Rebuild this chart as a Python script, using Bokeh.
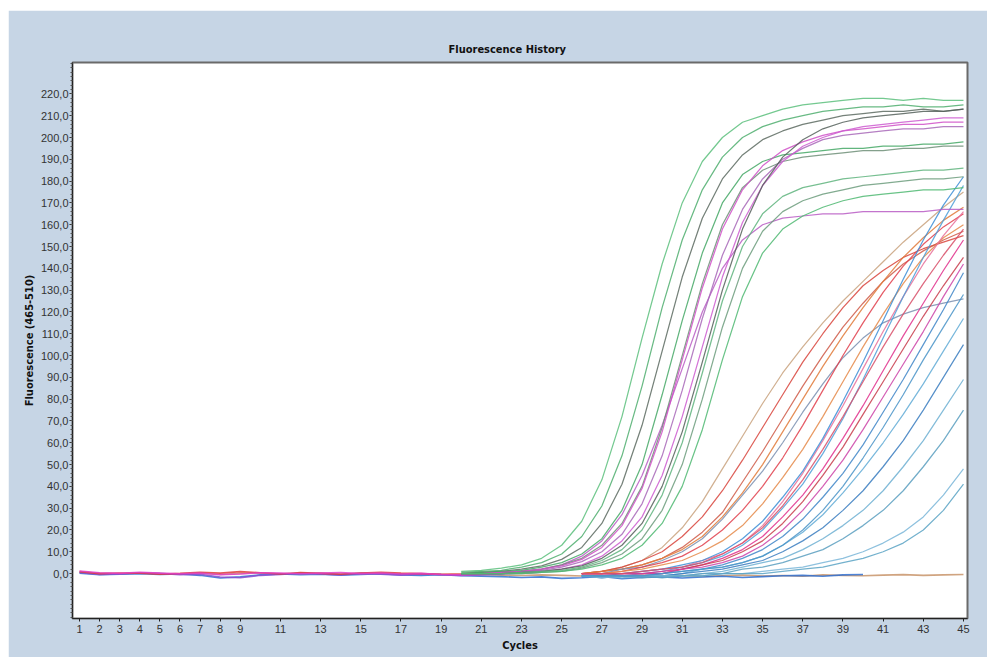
from bokeh.plotting import figure
from bokeh.models import Range1d, FixedTicker
from bokeh.embed import file_html
from bokeh.resources import INLINE

# ---------------- texts / ticks ----------------
TITLE = "Fluorescence History"
X_LABEL = "Cycles"
Y_LABEL = "Fluorescence (465-510)"
X_TICKS = [1, 2, 3, 4, 5, 6, 7, 8, 9, 11, 13, 15, 17, 19, 21, 23, 25, 27, 29, 31, 33, 35, 37, 39, 41, 43, 45]
Y_TICKS = [0, 10, 20, 30, 40, 50, 60, 70, 80, 90, 100, 110, 120, 130, 140, 150, 160, 170, 180, 190, 200, 210, 220]
Y_TICK_LABELS = ["0,0", "10,0", "20,0", "30,0", "40,0", "50,0", "60,0", "70,0", "80,0", "90,0", "100,0",
                 "110,0", "120,0", "130,0", "140,0", "150,0", "160,0", "170,0", "180,0", "190,0", "200,0",
                 "210,0", "220,0"]

# ---------------- cycles ----------------
CYCLES_BASE = list(range(1, 46))      # baseline traces
CYCLES_EARLY = list(range(20, 46))    # early amplification curves
CYCLES_LATE = list(range(26, 46))     # late amplification curves

# ---------------- baseline traces (cycles 1..n) ----------------
BL_MAGENTA = [1.2, 0.4, 0.1, 0.6, 0.2, -0.1, 0.3, -0.5, -0.2, 0.4, 0.3, -0.1, 0.2, 0.5, 0.0, 0.3, -0.2, 0.1, -0.4, -0.6, -0.3, 0.4, 0.8, 1.4]
BL_RED = [0.9, 0.0, 0.3, 0.2, -0.3, 0.1, 0.6, 0.2, 0.9, 0.4, -0.2, 0.5, 0.1, -0.3, 0.3, 0.6, 0.2, 0.0, -0.3, -0.1, 0.2, 0.6, 0.9, 1.6]
BL_PURPLE = [0.5, -0.4, -0.2, 0.3, 0.1, -0.5, -0.3, -1.6, -1.9, -0.8, -0.4, 0.2, -0.2, -0.6, 0.1, -0.3, -0.7, -0.2, -0.5, -0.8, -0.6, -0.2, 0.3, 0.6]
BL_BLUE = [0.2, -0.5, -0.3, 0.0, -0.4, -0.2, -0.8, -2.0, -1.5, -0.6, -0.2, -0.5, -0.3, -0.7, -0.4, -0.1, -0.6, -0.9, -0.5, -1.0,
           -1.2, -1.4, -1.8, -1.5, -2.2, -1.9, -1.3, -2.4, -1.8, -1.5, -2.0, -1.6, -1.2, -1.8, -1.4, -1.0, -0.8, -1.2, -0.6, -0.4]
BL_NEG = [0.6, 0.1, -0.2, 0.3, 0.0, -0.3, 0.2, -0.4, 0.1, 0.3, -0.1, 0.0, 0.2, -0.2, 0.1, 0.0, -0.3, -0.1, -0.5, -0.6,
          -0.4, -0.7, -0.9, -0.6, -0.8, -1.1, -0.9, -1.2, -0.8, -1.0, -0.9, -1.3, -1.0, -0.7, -1.1, -0.9, -1.2, -0.6, -0.9, -1.0,
          -0.7, -0.5, -0.8, -0.6, -0.4]

# ---------------- early curves (cycles 20..45) ----------------
A1 = [1, 1.5, 2.5, 4, 7, 13, 24, 43, 72, 108, 142, 170, 189, 200, 207, 210, 213, 215, 216, 217, 218, 218, 217, 218, 217, 217]
A2 = [0.5, 1, 1.5, 3, 5, 9, 17, 31, 54, 86, 122, 153, 176, 191, 200, 205, 208, 210, 212, 213, 214, 214, 215, 214, 214, 215]
A3 = [0, 0.5, 1, 2, 3.5, 6.5, 12, 23, 41, 68, 102, 136, 163, 181, 192, 199, 203, 206, 208, 210, 211, 212, 212, 213, 212, 213]
A4 = [0, 0, 0.5, 1, 2, 4, 8, 15, 27, 45, 68, 94, 120, 140, 153, 160, 163, 164, 165, 165, 166, 166, 166, 166, 167, 167]
A5 = [0, 0.5, 1, 1.5, 3, 5, 9, 16, 29, 50, 82, 116, 147, 170, 183, 189, 192, 193, 194, 195, 195, 196, 196, 197, 197, 198]
A6 = [0, 0, 0.5, 1, 2, 4, 7, 13, 23, 40, 67, 100, 133, 160, 177, 185, 189, 191, 192, 193, 194, 194, 195, 195, 196, 196]
A7 = [0, 0, 0.5, 1, 2, 3.5, 6.5, 12, 22, 39, 65, 98, 131, 158, 176, 187, 194, 198, 201, 203, 204, 205, 206, 206, 207, 207]
A8 = [0, 0, 0, 0.5, 1.5, 3, 5.5, 10, 18, 32, 54, 84, 117, 146, 167, 181, 190, 195, 199, 201, 202, 203, 204, 204, 205, 205]
A9 = [0, 0, 0, 0.5, 1, 2, 4, 8, 15, 26, 45, 72, 104, 136, 161, 178, 189, 196, 200, 203, 205, 206, 207, 208, 209, 209]
A10 = [0, 0, 0, 0.5, 1, 2, 3.5, 7, 13, 23, 40, 65, 97, 130, 158, 178, 191, 199, 204, 207, 209, 210, 211, 212, 212, 213]
A11 = [0, 0, 0, 0.5, 1, 1.5, 3, 6, 11, 20, 36, 60, 92, 125, 150, 165, 173, 177, 179, 181, 182, 183, 184, 185, 185, 186]
A12 = [0, 0, 0, 0, 0.5, 1, 2.5, 5, 9, 16, 29, 50, 80, 113, 140, 157, 166, 171, 174, 176, 178, 179, 180, 181, 181, 182]
A13 = [0, 0, 0, 0, 0.5, 1, 2, 4, 7, 13, 23, 40, 66, 98, 127, 147, 158, 164, 168, 171, 173, 174, 175, 176, 176, 177]

# ---------------- late curves (cycles 26..45) ----------------
B1 = [0, 1, 3, 6, 12, 21, 33, 48, 63, 78, 92, 104, 115, 125, 134, 143, 152, 160, 168, 175]
B2 = [0, 1, 3, 6, 10, 17, 26, 38, 52, 67, 82, 97, 110, 122, 132, 139, 145, 149, 152, 155]
B3 = [0, 1, 2, 4, 7, 12, 19, 28, 42, 56, 71, 86, 100, 113, 124, 134, 142, 148, 153, 157]
B4 = [0, 1, 2, 4, 7, 11, 17, 26, 37, 50, 65, 80, 95, 109, 122, 134, 145, 154, 162, 168]
B5 = [0, 0, 2, 3, 6, 10, 16, 25, 36, 47, 60, 74, 87, 99, 108, 115, 119, 122, 124, 126]
B6 = [0, 0, 1, 3, 5, 8, 13, 20, 29, 40, 53, 68, 84, 100, 115, 129, 141, 151, 159, 165]
B7 = [0, 0, 1, 2, 4, 6, 10, 15, 22, 32, 44, 57, 72, 88, 104, 119, 133, 145, 154, 160]
B8 = [0, 0, 0, 1, 2, 3, 6, 9, 14, 22, 33, 46, 61, 77, 94, 111, 127, 142, 155, 166]
B9 = [-1, -1, 0, 1, 2, 4, 6, 10, 16, 24, 35, 47, 62, 79, 97, 116, 135, 153, 169, 182]
B10 = [-1, -1, -1, 0, 1, 3, 5, 8, 13, 20, 30, 41, 55, 71, 89, 108, 127, 145, 162, 178]
B11 = [0, 0, 0, 0, 1, 2, 4, 7, 11, 17, 26, 36, 48, 62, 77, 93, 109, 124, 139, 153]
B12 = [0, 0, 0, 0, 0, 2, 4, 6, 10, 15, 23, 33, 45, 58, 73, 88, 103, 118, 132, 145]
B13 = [0, 0, 0, 0, 0, 2, 3, 5, 8, 13, 20, 29, 40, 52, 66, 81, 96, 111, 127, 142]
B14 = [-1, -1, -1, -1, 0, 1, 2, 4, 7, 11, 17, 25, 35, 46, 59, 74, 89, 105, 121, 138]
B15 = [-1, -1, -1, -1, -1, 0, 2, 3, 5, 8, 13, 19, 27, 37, 48, 60, 73, 87, 102, 117]
B16 = [-1, -2, -1, -1, -1, 0, 1, 2, 4, 6, 10, 15, 21, 29, 38, 49, 61, 75, 90, 105]
B17 = [-1, -1, -2, -1, -1, -1, 0, 1, 3, 5, 7, 11, 16, 22, 29, 38, 49, 61, 75, 89]
B18 = [-1, -1, -1, -2, -1, -1, 0, 0, 2, 3, 5, 8, 11, 16, 22, 29, 38, 49, 61, 75]
B19 = [-1, -2, -1, -1, -1, -1, -1, 0, 0, 1, 2, 3, 5, 7, 10, 14, 19, 26, 36, 48]
B20 = [-1, -1, -1, -1, -2, -1, -1, 0, 0, 0, 1, 2, 3, 5, 7, 10, 14, 20, 29, 41]
B21 = [-1, -1, -1, -1, 0, 1, 2, 3, 5, 8, 13, 20, 29, 40, 53, 67, 82, 98, 113, 128]
B22 = [0, 0, 0, 1, 2, 3, 5, 9, 14, 21, 31, 43, 57, 72, 88, 104, 119, 133, 146, 158]

# ---------------- styling ----------------
BG_PANEL = "#c6d5e5"
FONT = "Liberation Sans"
BOLD_FONT = "Liberation Sans Narrow, DejaVu Sans Condensed, Liberation Sans"

base_series = [
    (BL_NEG, "#c8946a"), (BL_BLUE, "#2f6fd0"), (BL_PURPLE, "#8a4fd0"),
    (BL_RED, "#e03a3a"), (BL_MAGENTA, "#e040c8"),
]
late_series = [
    (B1, "#c9a27e"), (B2, "#d8443c"), (B3, "#cf5a48"), (B4, "#e07a3a"), (B5, "#7a8fb0"),
    (B6, "#e0404c"), (B7, "#e58a4a"), (B8, "#e8709a"), (B9, "#3d8ed6"), (B10, "#4f9fd8"),
    (B11, "#e0308c"), (B12, "#c83c4c"), (B13, "#cc44a8"), (B14, "#3f86c8"), (B15, "#62acd6"),
    (B16, "#3a7cc0"), (B17, "#6fb0d2"), (B18, "#5a9fbf"), (B19, "#7ab6d8"), (B20, "#5aa3c4"),
    (B21, "#4a94c8"), (B22, "#d8506a"),
]
early_series = [
    (A1, "#5cbf7c"), (A2, "#4fae6e"), (A3, "#5d6b62"), (A4, "#b85cc4"), (A5, "#45a866"),
    (A6, "#6f8f78"), (A7, "#d050c8"), (A8, "#a868b8"), (A9, "#cc5cd0"), (A10, "#55605a"),
    (A11, "#5fb47e"), (A12, "#6c9c7c"), (A13, "#4fb872"),
]

p = figure(width=979, height=647,
           x_range=Range1d(0.65, 45.2), y_range=Range1d(-20.6, 234.4),
           output_backend="svg", toolbar_location=None,
           min_border_left=64, min_border_right=20, min_border_top=52, min_border_bottom=39,
           background_fill_color="white", border_fill_color=BG_PANEL,
           margin=(10, 0, 2, 8))

for vals, col in base_series:
    p.line(CYCLES_BASE[:len(vals)], vals, line_color=col, line_width=1.6, line_alpha=0.85)
for vals, col in late_series:
    p.line(CYCLES_LATE, vals, line_color=col, line_width=1.25, line_alpha=0.85)
for vals, col in early_series:
    p.line(CYCLES_EARLY, vals, line_color=col, line_width=1.25, line_alpha=0.85)

# title (left-aligned with an offset so that it sits slightly left of the frame centre)
p.title.text = TITLE
p.title.align = "left"
p.title.offset = 376
p.title.text_font = BOLD_FONT
p.title.text_font_style = "bold"
p.title.text_font_size = "11px"
p.title.text_color = "#111111"
p.title.standoff = 14

# grids / outline
p.xgrid.visible = False
p.ygrid.visible = False
p.outline_line_color = "#6a6a6a"
p.outline_line_width = 2

# x axis
xa = p.xaxis[0]
xa.ticker = FixedTicker(ticks=X_TICKS)
xa.axis_label = X_LABEL
xa.axis_label_text_font = BOLD_FONT
xa.axis_label_text_font_style = "bold"
xa.axis_label_text_font_size = "11px"
xa.axis_label_text_color = "#111111"
xa.axis_label_standoff = 3
xa.major_label_text_font = FONT
xa.major_label_text_font_size = "11px"
xa.major_label_text_color = "#333333"
xa.major_label_standoff = 3
xa.major_tick_out = 3
xa.major_tick_in = 0
xa.minor_tick_out = 0
xa.axis_line_color = "#222222"
xa.major_tick_line_color = "#222222"

# y axis
ya = p.yaxis[0]
ya.ticker = FixedTicker(ticks=Y_TICKS, minor_ticks=list(range(-20, 235, 2)))
ya.major_label_overrides = {t: lab for t, lab in zip(Y_TICKS, Y_TICK_LABELS)}
ya.axis_label = Y_LABEL
ya.axis_label_text_font = BOLD_FONT
ya.axis_label_text_font_style = "bold"
ya.axis_label_text_font_size = "11px"
ya.axis_label_text_color = "#111111"
ya.axis_label_standoff = 2
ya.major_label_text_font = FONT
ya.major_label_text_font_size = "11px"
ya.major_label_text_color = "#333333"
ya.major_label_standoff = 1
ya.major_tick_out = 3
ya.major_tick_in = 0
ya.minor_tick_out = 2
ya.minor_tick_in = 0
ya.axis_line_color = "#222222"
ya.major_tick_line_color = "#222222"
ya.minor_tick_line_color = "#555555"

open("out.html", "w").write(file_html(p, INLINE))
